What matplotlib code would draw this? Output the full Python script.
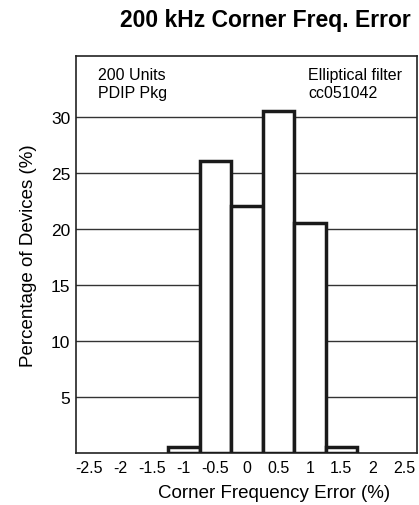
import numpy as np
import matplotlib.pyplot as plt

plt.rcParams['font.family'] = ['Liberation Sans', 'DejaVu Sans']

# histogram bin centres (% error) and percentage of devices
bin_center = [-1.0, -0.5, 0.0, 0.5, 1.0, 1.5]
bin_width = 0.5
percent = [0.5, 26, 22, 30.5, 20.5, 0.5]

xticks = [-2.5, -2, -1.5, -1, -0.5, 0, 0.5, 1, 1.5, 2, 2.5]
xtick_labels = ['-2.5', '-2', '-1.5', '-1', '-0.5', '0', '0.5', '1', '1.5', '2', '2.5']
yticks = [5, 10, 15, 20, 25, 30]

fig = plt.figure(figsize=(4.19, 5.06), dpi=100)
ax = fig.add_axes([76 / 419, 1 - 454 / 506, 341 / 419, 397 / 506])

ax.bar(bin_center, percent, width=bin_width, color='white',
       edgecolor='#1a1a1a', linewidth=2.5, zorder=3)

ax.set_xlim(-2.71, 2.70)
ax.set_ylim(0, 35.4)
ax.set_xticks(xticks)
ax.set_xticklabels(xtick_labels)
ax.set_yticks(yticks)
ax.tick_params(axis='x', length=0, labelsize=11.5, pad=5)
ax.tick_params(axis='y', length=0, labelsize=12.5, pad=4)
ax.yaxis.grid(True, color='#333333', linewidth=1.0, zorder=0)
ax.set_axisbelow(True)
for s in ax.spines.values():
    s.set_linewidth(1.2)
    s.set_color('#222222')

ax.set_xlabel('Corner Frequency Error (%)', fontsize=13.5)
ax.xaxis.set_label_coords(0.58, -0.077)
ax.set_ylabel('Percentage of Devices (%)', fontsize=13.5, labelpad=10)

# corner notes
ax.text(0.0645, 0.942, '200 Units', transform=ax.transAxes,
        ha='left', va='baseline', fontsize=11.5)
ax.text(0.0645, 0.897, 'PDIP Pkg', transform=ax.transAxes,
        ha='left', va='baseline', fontsize=11.5)
ax.text(0.68, 0.942, 'Elliptical filter', transform=ax.transAxes,
        ha='left', va='baseline', fontsize=11.5)
ax.text(0.68, 0.897, 'cc051042', transform=ax.transAxes,
        ha='left', va='baseline', fontsize=11.5)

fig.text(265.5 / 419, 1 - 27 / 506, '200 kHz Corner Freq. Error', ha='center',
         va='baseline', fontsize=16.5, fontweight='bold')

fig.savefig('out.png', dpi=100)
